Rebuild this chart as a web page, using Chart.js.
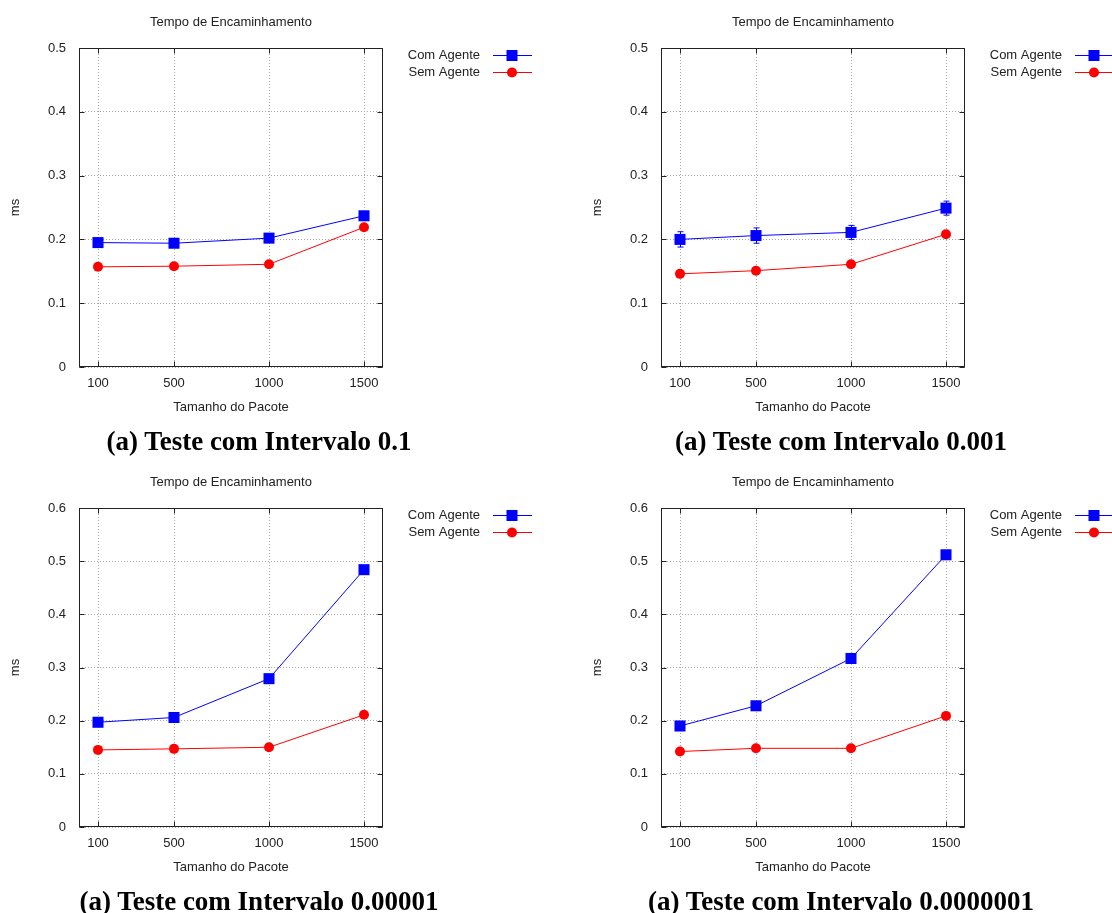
<!DOCTYPE html>
<html><head><meta charset="utf-8">
<script src="https://cdn.jsdelivr.net/npm/chart.js@4/dist/chart.umd.min.js"></script>
<style>
html,body{margin:0;padding:0;background:#fff;overflow:hidden;}
#wrap{position:relative;width:1112px;height:913px;overflow:hidden;}
.panel{position:absolute;}
.panel canvas{display:block;}
.cap{position:absolute;font:bold 27px "Liberation Serif","Times New Roman",serif;color:#000;white-space:nowrap;transform:translate(-50%,-50%);line-height:30px;}
</style></head>
<body>
<div id="wrap">
  <div class="panel" style="left:0;top:0"><canvas id="c1" width="556" height="460"></canvas></div>
  <div class="panel" style="left:582px;top:0"><canvas id="c2" width="556" height="460"></canvas></div>
  <div class="panel" style="left:0;top:460px"><canvas id="c3" width="556" height="453"></canvas></div>
  <div class="panel" style="left:582px;top:460px"><canvas id="c4" width="556" height="453"></canvas></div>
  <div class="cap" style="left:259px;top:441px">(a) Teste com Intervalo 0.1</div>
  <div class="cap" style="left:841px;top:441px">(a) Teste com Intervalo 0.001</div>
  <div class="cap" style="left:259px;top:901px">(a) Teste com Intervalo 0.00001</div>
  <div class="cap" style="left:841px;top:901px">(a) Teste com Intervalo 0.0000001</div>
</div>
<script>
// ---- data ----
const sizes = [100, 500, 1000, 1500];
const xTicks = [100, 500, 1000, 1500];
const chartTitle = "Tempo de Encaminhamento";
const xTitle = "Tamanho do Pacote";
const yTitle = "ms";
const seriesNames = ["Com Agente", "Sem Agente"];

const p1Com = [0.195, 0.194, 0.202, 0.237];
const p1ComErr = [0, 0, 0, 0];
const p1Sem = [0.157, 0.158, 0.161, 0.219];

const p2Com = [0.200, 0.206, 0.211, 0.249];
const p2ComErr = [0.012, 0.012, 0.011, 0.011];
const p2Sem = [0.146, 0.151, 0.161, 0.208];

const p3Com = [0.197, 0.206, 0.279, 0.484];
const p3ComErr = [0.008, 0, 0, 0];
const p3Sem = [0.145, 0.147, 0.150, 0.211];

const p4Com = [0.190, 0.228, 0.317, 0.512];
const p4ComErr = [0, 0, 0, 0];
const p4Sem = [0.142, 0.148, 0.148, 0.209];

const yMaxTop = 0.5;
const yMaxBottom = 0.6;

// ---- styling ----
const FONT = '"Liberation Sans", Arial, sans-serif';
const FS = 13;
const TXT = '#222';

const framePlugin = {
  id: 'frame',
  beforeDatasetsDraw(chart) {
    const {ctx, chartArea: a} = chart;
    const xs = chart.scales.x, ys = chart.scales.y;
    ctx.save();
    ctx.strokeStyle = '#222';
    ctx.lineWidth = 1;
    const L = Math.round(a.left) + 0.5, R = Math.round(a.right) - 0.5;
    const T = Math.round(a.top) + 0.5, B = Math.round(a.bottom) - 0.5;
    ctx.strokeRect(L, T, R - L, B - T);
    ctx.beginPath();
    const tl = 5;
    xs.ticks.forEach(t => {
      const px = Math.round(xs.getPixelForValue(t.value)) + 0.5;
      ctx.moveTo(px, B); ctx.lineTo(px, B - tl);
      ctx.moveTo(px, T); ctx.lineTo(px, T + tl);
    });
    ys.ticks.forEach(t => {
      const py = Math.round(ys.getPixelForValue(t.value)) + 0.5;
      ctx.moveTo(L, py); ctx.lineTo(L + tl, py);
      ctx.moveTo(R, py); ctx.lineTo(R - tl, py);
    });
    ctx.stroke();
    // error bars
    chart.data.datasets.forEach(ds => {
      if (!ds.errors) return;
      ctx.strokeStyle = ds.borderColor;
      ctx.lineWidth = 1;
      ctx.beginPath();
      ds.data.forEach((p, i) => {
        const e = ds.errors[i];
        if (!e) return;
        const x = Math.round(xs.getPixelForValue(p.x)) + 0.5;
        const y1 = ys.getPixelForValue(p.y - e);
        const y2 = ys.getPixelForValue(p.y + e);
        ctx.moveTo(x, y1); ctx.lineTo(x, y2);
        ctx.moveTo(x - 3, y1); ctx.lineTo(x + 3, y1);
        ctx.moveTo(x - 3, y2); ctx.lineTo(x + 3, y2);
      });
      ctx.stroke();
    });
    ctx.restore();
  },
  afterDraw(chart) {
    const {ctx, chartArea: a} = chart;
    ctx.save();
    ctx.fillStyle = TXT;
    ctx.font = FS + 'px ' + FONT;
    ctx.textAlign = 'center';
    ctx.textBaseline = 'middle';
    ctx.fillText(chartTitle, (a.left + a.right) / 2, 22.5);
    // legend
    const rows = [55, 72];
    chart.data.datasets.forEach((ds, i) => {
      const y = rows[i];
      ctx.fillStyle = TXT;
      ctx.textAlign = 'right';
      ctx.fillText(ds.label, 480, y);
      ctx.strokeStyle = ds.borderColor;
      ctx.lineWidth = 1;
      ctx.beginPath();
      ctx.moveTo(493, y + 0.5); ctx.lineTo(532, y + 0.5);
      ctx.stroke();
      ctx.fillStyle = ds.pointBackgroundColor;
      if (ds.pointStyle === 'rect') {
        ctx.fillRect(512 - 5.5, y + 0.5 - 5.5, 11, 11);
      } else {
        ctx.beginPath();
        ctx.arc(512, y + 0.5, 5, 0, Math.PI * 2);
        ctx.fill();
      }
    });
    ctx.restore();
  }
};

function makeChart(id, com, comErr, sem, yMax, H) {
  const data = {
    datasets: [
      {
        label: seriesNames[0],
        data: com.map((v, i) => ({x: sizes[i], y: v})),
        errors: comErr,
        borderColor: '#0000ff',
        backgroundColor: '#0000ff',
        pointBackgroundColor: '#0000ff',
        pointBorderWidth: 0,
        pointStyle: 'rect',
        pointRadius: 7.8,
        borderWidth: 1,
        tension: 0
      },
      {
        label: seriesNames[1],
        data: sem.map((v, i) => ({x: sizes[i], y: v})),
        borderColor: '#ff0000',
        backgroundColor: '#ff0000',
        pointBackgroundColor: '#ff0000',
        pointBorderWidth: 0,
        pointStyle: 'circle',
        pointRadius: 5,
        borderWidth: 1,
        tension: 0
      }
    ]
  };
  return new Chart(document.getElementById(id), {
    type: 'line',
    data,
    plugins: [framePlugin],
    options: {
      responsive: false,
      animation: false,
      devicePixelRatio: 1,
      layout: {padding: {top: 48, left: 0, right: 173, bottom: H - 367 - 48}},
      plugins: {legend: {display: false}, title: {display: false}, tooltip: {enabled: false}},
      scales: {
        x: {
          type: 'linear', min: 0, max: 1600,
          afterBuildTicks: s => { s.ticks = xTicks.map(v => ({value: v})); },
          afterFit: s => { s.height = 48; },
          grid: {color: '#a8a8a8', lineWidth: 1, drawTicks: false, borderDash: [1, 2]},
          border: {display: false, dash: [1, 2]},
          ticks: {font: {family: FONT, size: FS}, color: TXT, padding: 9, maxRotation: 0, autoSkip: false,
                  callback: v => String(v)},
          title: {display: true, text: xTitle, font: {family: FONT, size: FS}, color: TXT, padding: 0}
        },
        y: {
          min: 0, max: yMax,
          afterFit: s => { s.width = 79; },
          grid: {color: '#a8a8a8', lineWidth: 1, drawTicks: false, borderDash: [1, 2]},
          border: {display: false, dash: [1, 2]},
          ticks: {stepSize: 0.1, font: {family: FONT, size: FS}, color: TXT, padding: 13,
                  callback: v => String(Math.round(v * 10) / 10)},
          title: {display: true, text: yTitle, font: {family: FONT, size: FS}, color: TXT, padding: {top: 8, bottom: 0}}
        }
      }
    }
  });
}

makeChart('c1', p1Com, p1ComErr, p1Sem, yMaxTop, 460);
makeChart('c2', p2Com, p2ComErr, p2Sem, yMaxTop, 460);
makeChart('c3', p3Com, p3ComErr, p3Sem, yMaxBottom, 453);
makeChart('c4', p4Com, p4ComErr, p4Sem, yMaxBottom, 453);
</script>
</body></html>
